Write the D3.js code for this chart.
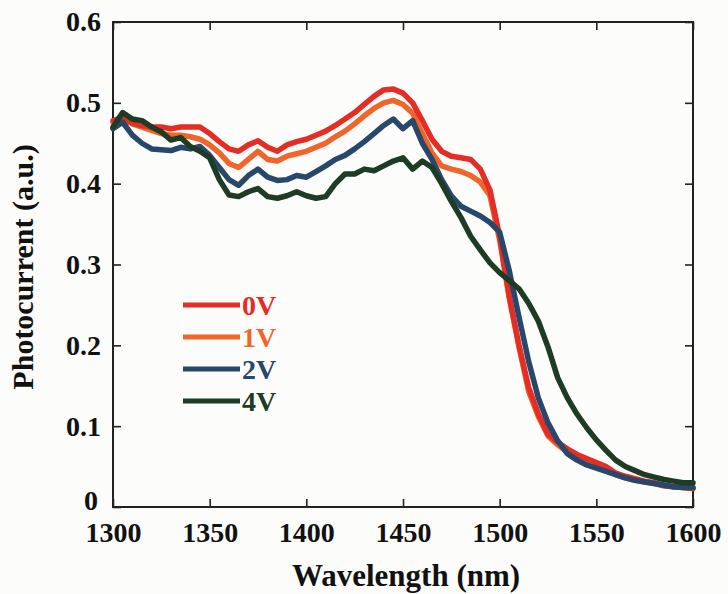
<!DOCTYPE html>
<html>
<head>
<meta charset="utf-8">
<script src="https://cdn.jsdelivr.net/npm/d3@7"></script>
<style>
  body { margin: 0; background: #fcfcfb; }
  svg { display: block; }
  text { font-family: "Liberation Serif", "Times New Roman", serif; font-weight: bold; }
</style>
</head>
<body>
<div id="chart"></div>
<script>
// Wavelength grid (nm), 5 nm steps
const wavelengths = d3.range(1300, 1601, 5);

// Photocurrent (a.u.), one value per wavelength
const series0V = [
  0.478, 0.482, 0.475, 0.472, 0.470, 0.470, 0.468, 0.470, 0.470, 0.470,
  0.462, 0.452, 0.443, 0.440, 0.448, 0.453, 0.445, 0.440, 0.448, 0.452,
  0.455, 0.460, 0.465, 0.472, 0.480, 0.488, 0.498, 0.508, 0.516, 0.517,
  0.512, 0.500, 0.478, 0.455, 0.440, 0.434, 0.432, 0.430, 0.418, 0.392,
  0.335, 0.260, 0.200, 0.148, 0.115, 0.090, 0.080, 0.072, 0.065, 0.060,
  0.055, 0.050, 0.042, 0.038, 0.035, 0.032, 0.030, 0.027, 0.025, 0.024, 0.023
];
const series1V = [
  0.476, 0.480, 0.474, 0.470, 0.466, 0.462, 0.460, 0.460, 0.458, 0.455,
  0.448, 0.438, 0.425, 0.420, 0.430, 0.440, 0.430, 0.428, 0.434, 0.437,
  0.440, 0.445, 0.450, 0.458, 0.465, 0.474, 0.484, 0.493, 0.500, 0.503,
  0.498, 0.487, 0.462, 0.438, 0.422, 0.418, 0.415, 0.410, 0.402, 0.385,
  0.330, 0.258, 0.198, 0.143, 0.112, 0.088, 0.077, 0.068, 0.062, 0.056,
  0.051, 0.047, 0.040, 0.036, 0.033, 0.031, 0.029, 0.026, 0.025, 0.024, 0.023
];
const series2V = [
  0.468, 0.476, 0.460, 0.450, 0.443, 0.442, 0.441, 0.445, 0.443, 0.446,
  0.435, 0.420, 0.405, 0.398, 0.410, 0.418, 0.408, 0.404, 0.405, 0.410,
  0.408, 0.415, 0.422, 0.430, 0.435, 0.443, 0.452, 0.462, 0.472, 0.480,
  0.468, 0.478, 0.450, 0.430, 0.405, 0.385, 0.372, 0.366, 0.360, 0.352,
  0.340, 0.292, 0.235, 0.180, 0.135, 0.104, 0.082, 0.066, 0.058, 0.052,
  0.048, 0.044, 0.040, 0.036, 0.033, 0.031, 0.029, 0.027, 0.025, 0.024, 0.024
];
const series4V = [
  0.470, 0.488, 0.480, 0.478, 0.470, 0.464, 0.454, 0.457, 0.446, 0.440,
  0.432, 0.405, 0.386, 0.384, 0.390, 0.394, 0.384, 0.382, 0.385, 0.390,
  0.385, 0.382, 0.384, 0.400, 0.412, 0.412, 0.418, 0.416, 0.422, 0.428,
  0.432, 0.418, 0.428, 0.420, 0.400, 0.378, 0.358, 0.335, 0.318, 0.302,
  0.290, 0.280, 0.270, 0.252, 0.230, 0.198, 0.160, 0.135, 0.115, 0.098,
  0.083, 0.070, 0.058, 0.050, 0.045, 0.040, 0.037, 0.034, 0.032, 0.030, 0.030
];

const seriesNames = ["0V", "1V", "2V", "4V"];
const seriesColors = ["#e42d25", "#ef652b", "#27476b", "#1d3b25"];
const xTicks = [1300, 1350, 1400, 1450, 1500, 1550, 1600];
const yTicks = [0, 0.1, 0.2, 0.3, 0.4, 0.5, 0.6];

const width = 728, height = 594;
const margin = { top: 22, right: 35, bottom: 87, left: 113 };
const w = width - margin.left - margin.right;
const h = height - margin.top - margin.bottom;

const svg = d3.select("#chart").append("svg")
  .attr("width", width)
  .attr("height", height);

const g = svg.append("g")
  .attr("transform", `translate(${margin.left},${margin.top})`);

const x = d3.scaleLinear().domain([1300, 1600]).range([0, w]);
const y = d3.scaleLinear().domain([0, 0.6]).range([h, 0]);

const yFmt = d => d === 0 ? "0" : d3.format(".1f")(d);

// Axes with inward ticks
g.append("g")
  .attr("transform", `translate(0,${h})`)
  .call(d3.axisBottom(x).tickValues(xTicks).tickSize(-8).tickPadding(15).tickFormat(d3.format("d")));
g.append("g")
  .call(d3.axisTop(x).tickValues(xTicks).tickSize(-8).tickFormat(""));
const yAxis = g.append("g")
  .call(d3.axisLeft(y).tickValues(yTicks).tickSize(-8).tickPadding(12).tickFormat(yFmt));
g.append("g")
  .attr("transform", `translate(${w},0)`)
  .call(d3.axisRight(y).tickValues(yTicks).tickSize(-8).tickFormat(""));

g.selectAll(".domain").remove();
g.selectAll(".tick line").attr("stroke", "#222").attr("stroke-width", 1.6);
g.selectAll(".tick text")
  .attr("fill", "#111")
  .style("font-size", "28px");

// the "0" sits a little above the corner so it clears "1300"
yAxis.selectAll(".tick text")
  .filter(d => d === 0)
  .attr("dy", "0.1em")
  .attr("x", -15);

// Frame
g.append("rect")
  .attr("width", w)
  .attr("height", h)
  .attr("fill", "none")
  .attr("stroke", "#222")
  .attr("stroke-width", 2);

// Curves
const allSeries = [series0V, series1V, series2V, series4V];
const drawOrder = [1, 0, 2, 3];
const line = d3.line()
  .x((d, i) => x(wavelengths[i]))
  .y(d => y(d));

drawOrder.forEach(k => {
  g.append("path")
    .datum(allSeries[k])
    .attr("fill", "none")
    .attr("stroke", seriesColors[k])
    .attr("stroke-width", 5.5)
    .attr("stroke-linejoin", "round")
    .attr("stroke-linecap", "round")
    .attr("d", line);
});

// Legend
const legend = svg.append("g").attr("transform", "translate(183,305)");
seriesNames.forEach((name, i) => {
  const row = legend.append("g").attr("transform", `translate(0,${i * 32})`);
  row.append("line")
    .attr("x1", 0).attr("x2", 57)
    .attr("y1", 0).attr("y2", 0)
    .attr("stroke", seriesColors[i])
    .attr("stroke-width", 5);
  row.append("text")
    .attr("x", 59)
    .attr("y", 0)
    .attr("dy", "0.35em")
    .attr("fill", seriesColors[i])
    .style("font-size", "28px")
    .text(name);
});

// Axis titles
svg.append("text")
  .attr("x", margin.left + w / 2 + 3)
  .attr("y", 586)
  .attr("text-anchor", "middle")
  .attr("fill", "#111")
  .style("font-size", "31px")
  .text("Wavelength (nm)");

svg.append("text")
  .attr("transform", "translate(33,267) rotate(-90)")
  .attr("text-anchor", "middle")
  .attr("fill", "#111")
  .style("font-size", "30px")
  .text("Photocurrent (a.u.)");
</script>
</body>
</html>
